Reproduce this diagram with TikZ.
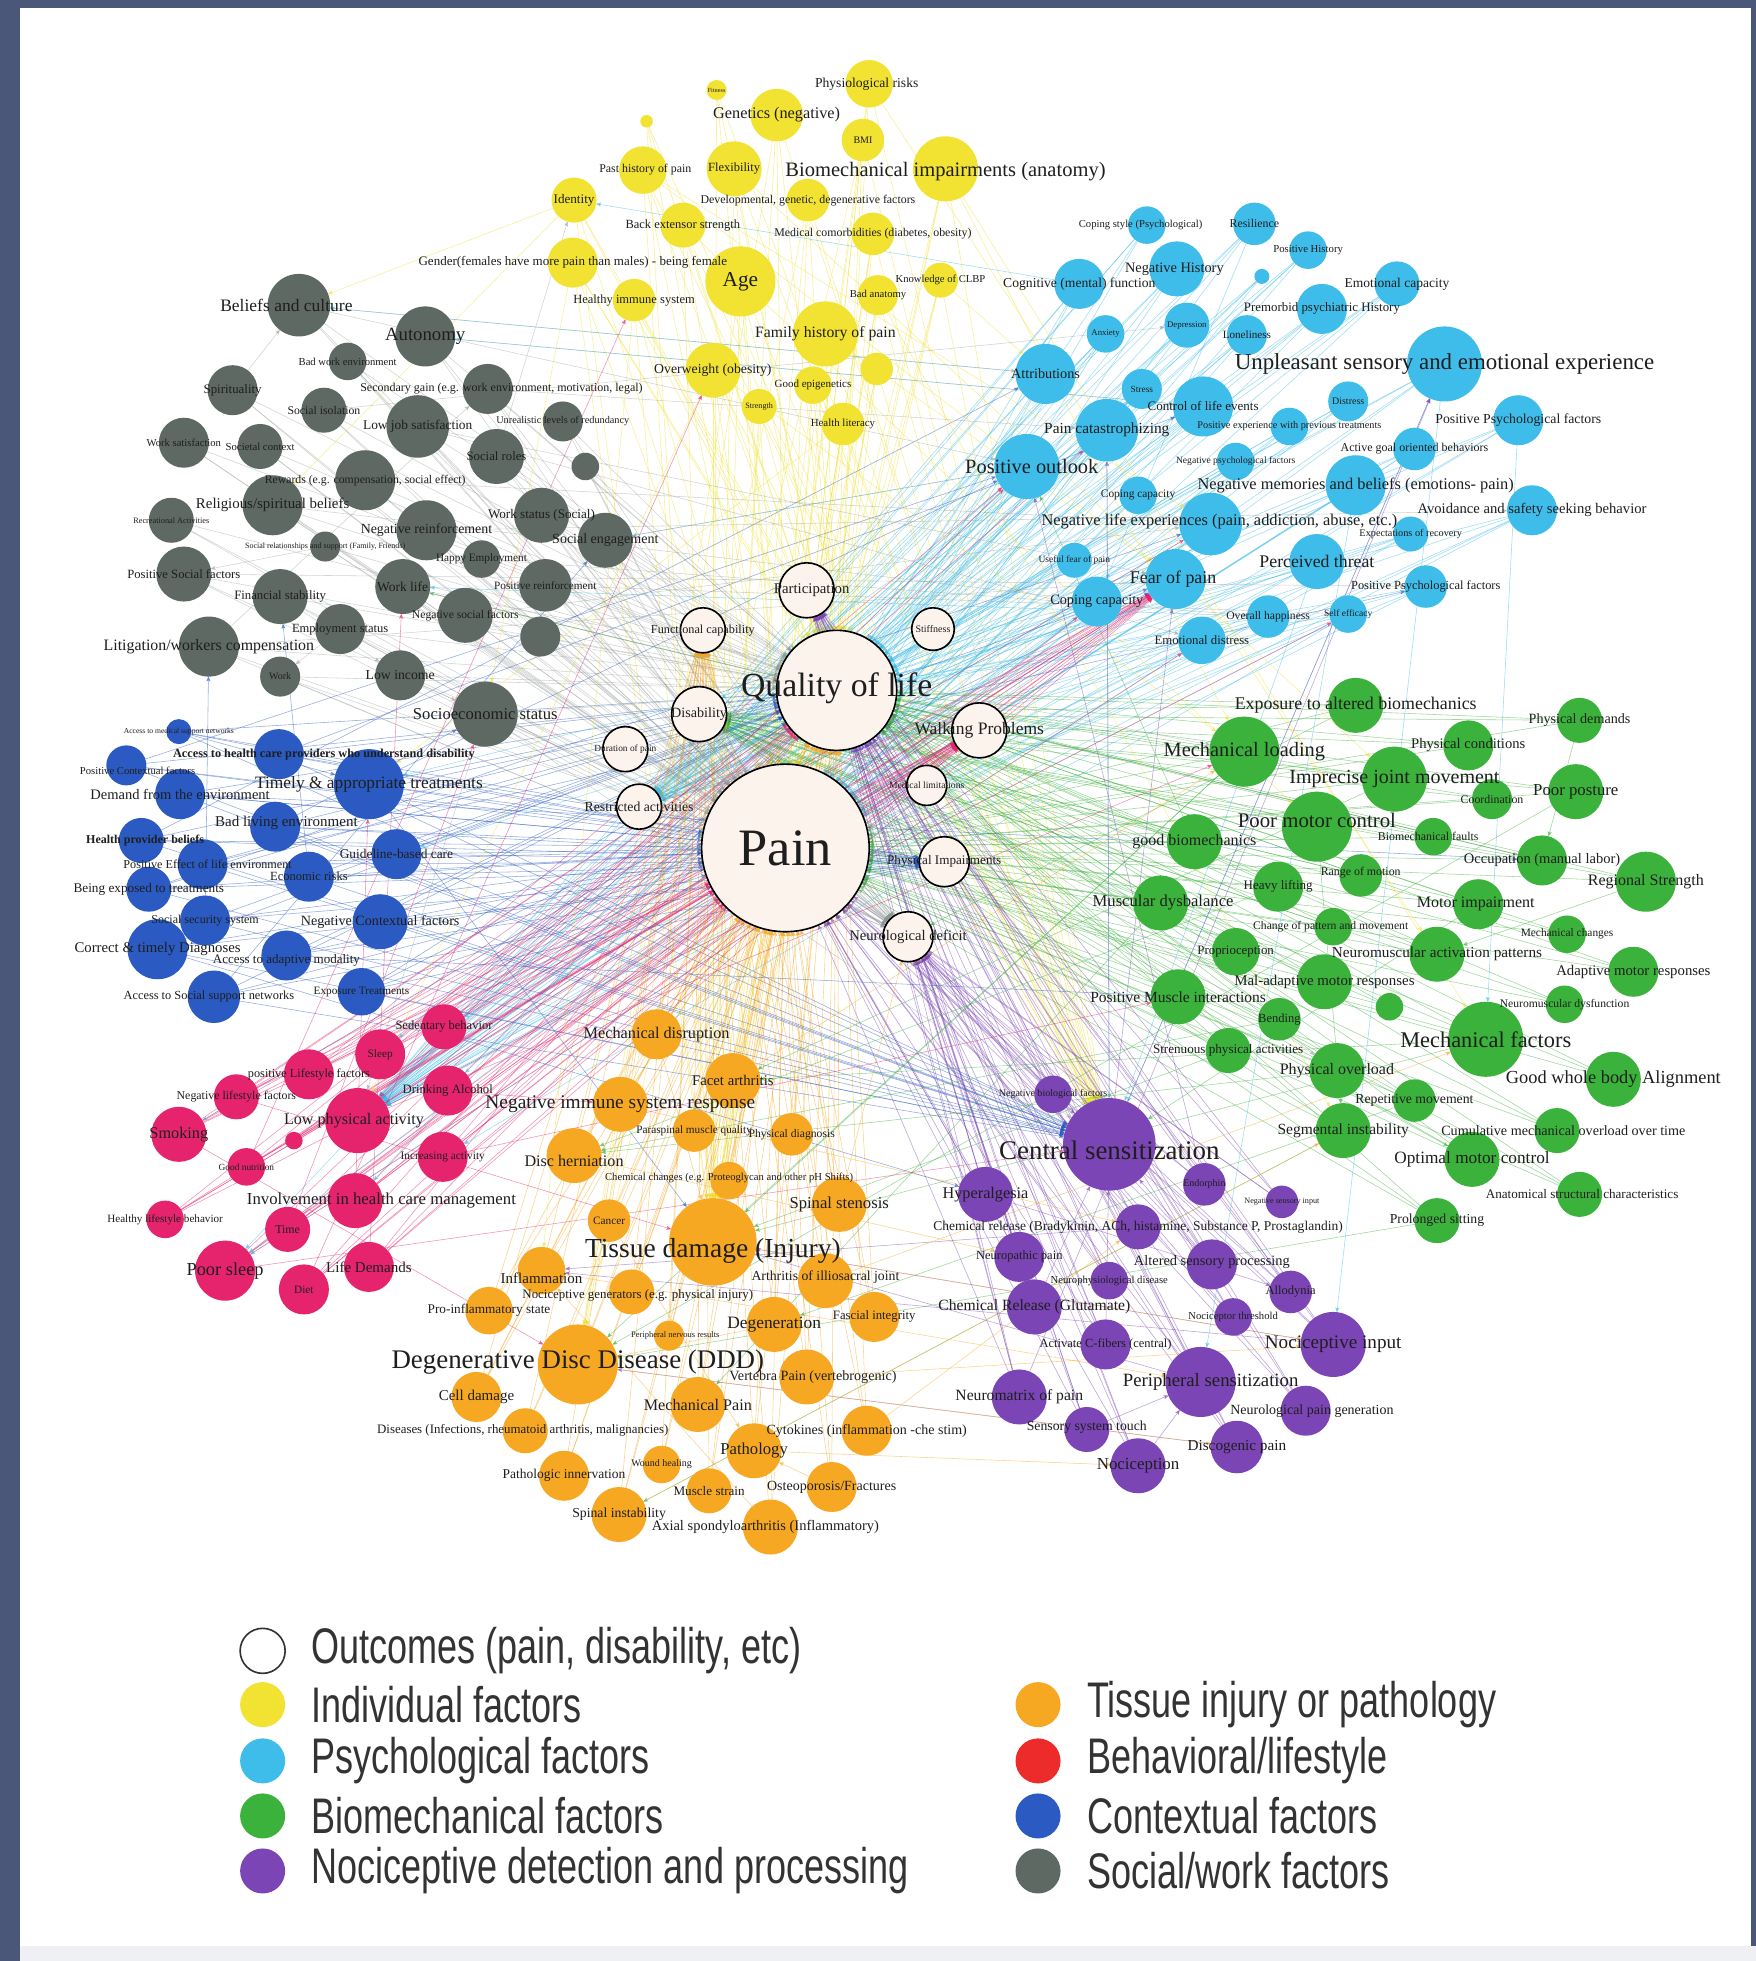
\documentclass[tikz,border=0pt]{standalone}
\usepackage{graphicx}
\usepackage{fontspec}
\setmainfont{Liberation Serif}
\newfontfamily\legfont{Liberation Sans}
\usetikzlibrary{arrows,positioning}

\definecolor{indc}{HTML}{F2E232}
\definecolor{psyc}{HTML}{3FBDEA}
\definecolor{bioc}{HTML}{3BB23B}
\definecolor{nocc}{HTML}{7B45B5}
\definecolor{tisc}{HTML}{F7A823}
\definecolor{behc}{HTML}{E6246E}
\definecolor{behleg}{HTML}{EE2B2B}
\definecolor{ctxc}{HTML}{2B5BC2}
\definecolor{socc}{HTML}{5E6963}
\definecolor{outfill}{HTML}{FBF3EC}
\definecolor{framec}{HTML}{4A5778}
\definecolor{bandc}{HTML}{EEF0F4}
\definecolor{labtxt}{HTML}{1E1E1E}
\definecolor{legtxt}{HTML}{333333}

\pgfdeclarelayer{framelayer}
\pgfdeclarelayer{edgelayer}
\pgfdeclarelayer{dotlayer}
\pgfsetlayers{framelayer,edgelayer,dotlayer,main}

% factor: [label options]{name}{style}{x}{y}{radius}{font size}{text}
\newcommand\fac[8][]{%
  \begin{pgfonlayer}{dotlayer}\node (#2) [#3, minimum size=2*#6] at (#4,#5) {};\end{pgfonlayer}%
  \node [lab=#7, #1] at (#2.center) {#8};}
\newcommand\legtxt[1]{\scalebox{0.72}[1]{#1}}

\begin{document}
\begin{tikzpicture}[x=1pt, y=-1pt, >=stealth', line cap=round]

    \tikzstyle{dot} = [circle, inner sep=0pt, outer sep=0pt]
    \tikzstyle{outc} = [dot, fill=outfill, draw=black, line width=1.3pt]
    \tikzstyle{ind} = [dot, fill=indc]
    \tikzstyle{psy} = [dot, fill=psyc]
    \tikzstyle{bio} = [dot, fill=bioc]
    \tikzstyle{noc} = [dot, fill=nocc]
    \tikzstyle{tis} = [dot, fill=tisc]
    \tikzstyle{beh} = [dot, fill=behc]
    \tikzstyle{ctx} = [dot, fill=ctxc]
    \tikzstyle{soc} = [dot, fill=socc]
    \tikzset{lab/.style={font=\fontsize{#1}{#1}\selectfont, text=labtxt, inner sep=0pt}}
    \tikzstyle{edge} = [->, line width=0.45pt, opacity=0.5]
    \tikzstyle{eind} = [edge, draw=indc]
    \tikzstyle{epsy} = [edge, draw=psyc]
    \tikzstyle{ebio} = [edge, draw=bioc]
    \tikzstyle{enoc} = [edge, draw=nocc]
    \tikzstyle{etis} = [edge, draw=tisc]
    \tikzstyle{ebeh} = [edge, draw=behc]
    \tikzstyle{ectx} = [edge, draw=ctxc]
    \tikzstyle{esoc} = [edge, draw=socc!70!white, opacity=0.4]
    \tikzstyle{legdot} = [dot, minimum size=36]
    \tikzstyle{legtext} = [font=\legfont\fontsize{40}{40}\selectfont, text=legtxt, inner sep=0pt, anchor=west]

    \useasboundingbox (0,0) rectangle (1404,1568);
    \begin{pgfonlayer}{framelayer}
        \fill[framec] (0,0) rectangle (1404,1568);
        \fill[white] (16,6) rectangle (1400,1556);
        \fill[bandc] (16,1556) rectangle (1404,1568);
    \end{pgfonlayer}

    % outcomes
    \fac[yshift=2]{qol}{outc}{669}{552}{48}{27}{Quality of life}
    \fac{pain}{outc}{628}{678}{67}{42}{Pain}
    \fac[xshift=4]{partic}{outc}{645}{472}{22}{11.8}{Participation}
    \fac{funccap}{outc}{562}{504}{18}{9.8}{Functional capability}
    \fac{stiff}{outc}{746}{503}{17}{8}{Stiffness}
    \fac{disab}{outc}{559}{571}{22}{11.3}{Disability}
    \fac{walk}{outc}{783}{584}{22}{14}{Walking Problems}
    \fac{durat}{outc}{500}{599}{18}{7.5}{Duration of pain}
    \fac{restr}{outc}{511}{645}{18}{11}{Restricted activities}
    \fac{physimp}{outc}{755}{689}{20}{10.5}{Physical Impairments}
    \fac{neuro}{outc}{726}{749}{20}{11.7}{Neurological deficit}
    \fac{medlim}{outc}{741}{628}{16}{7.7}{Medical limitations}

    % individual factors
    \fac{fitness}{ind}{573}{72}{8}{5}{Fitness}
    \fac{tinyy}{ind}{517}{97}{5}{4}{}
    \fac[xshift=-2]{physrisk}{ind}{695}{67}{19}{10.9}{Physiological risks}
    \fac{genet}{ind}{621}{92}{21}{13}{Genetics (negative)}
    \fac{bmi}{ind}{690}{112}{17}{8}{BMI}
    \fac[xshift=2]{pasthist}{ind}{514}{136}{19}{9.5}{Past history of pain}
    \fac{flex}{ind}{587}{135}{22}{10}{Flexibility}
    \fac[yshift=-2]{biomimp}{ind}{756}{135}{26}{16.4}{Biomechanical impairments (anatomy)}
    \fac{identity}{ind}{459}{160}{18}{10.5}{Identity}
    \fac{devgen}{ind}{646}{160}{17}{9.5}{Developmental, genetic, degenerative factors}
    \fac{backext}{ind}{546}{180}{18}{10}{Back extensor strength}
    \fac{medcom}{ind}{698}{187}{17}{9.5}{Medical comorbidities (diabetes, obesity)}
    \fac{gender}{ind}{458}{210}{20}{10.4}{Gender(females have more pain than males) - being female}
    \fac{age}{ind}{592}{225}{28}{17}{Age}
    \fac{knowclbp}{ind}{752}{224}{14}{8.5}{Knowledge of CLBP}
    \fac{healimm}{ind}{507}{240}{17}{10}{Healthy immune system}
    \fac{badanat}{ind}{702}{236}{16}{8.5}{Bad anatomy}
    \fac{famhist}{ind}{660}{267}{26}{12.6}{Family history of pain}
    \fac{overw}{ind}{570}{296}{22}{11}{Overweight (obesity)}
    \fac{ruminat}{ind}{701}{295}{13}{5}{}
    \fac{goodepi}{ind}{650}{308}{15}{8.8}{Good epigenetics}
    \fac{strength}{ind}{607}{325}{14}{6.5}{Strength}
    \fac{healit}{ind}{674}{339}{17}{8.7}{Health literacy}

    % psychological factors
    \fac[xshift=-5]{copsty}{psy}{917}{180}{15}{8.5}{Coping style (Psychological)}
    \fac{resil}{psy}{1003}{179}{17}{9.5}{Resilience}
    \fac{poshist}{psy}{1046}{200}{15}{8.6}{Positive History}
    \fac[xshift=-2]{neghist}{psy}{941}{215}{22}{11.5}{Negative History}
    \fac{tinyc}{psy}{1009}{221}{6}{4}{}
    \fac{cognit}{psy}{863}{227}{20}{10.9}{Cognitive (mental) function}
    \fac{emocap}{psy}{1117}{227}{18}{10.8}{Emotional capacity}
    \fac{premorb}{psy}{1057}{247}{20}{10.3}{Premorbid psychiatric History}
    \fac{anxiety}{psy}{884}{267}{15}{7}{Anxiety}
    \fac{depress}{psy}{949}{260}{18}{7}{Depression}
    \fac{lonely}{psy}{997}{268}{16}{8.9}{Loneliness}
    \fac{unpleas}{psy}{1155}{291}{30}{18.3}{Unpleasant sensory and emotional experience}
    \fac{attrib}{psy}{836}{299}{24}{11.4}{Attributions}
    \fac{stress}{psy}{913}{311}{16}{7.5}{Stress}
    \fac{distress}{psy}{1078}{321}{16}{8}{Distress}
    \fac{control}{psy}{962}{325}{24}{10.4}{Control of life events}
    \fac{paincat}{psy}{885}{344}{25}{12.3}{Pain catastrophizing}
    \fac{posexp}{psy}{1031}{341}{15}{8.2}{Positive experience with previous treatments}
    \fac{pospsyA}{psy}{1214}{336}{20}{11}{Positive Psychological factors}
    \fac{actgoal}{psy}{1131}{359}{17}{9.6}{Active goal oriented behaviors}
    \fac{negpsy}{psy}{988}{369}{15}{7.7}{Negative psychological factors}
    \fac[xshift=4]{posout}{psy}{821}{373}{26}{16.3}{Positive outlook}
    \fac{copcapA}{psy}{910}{396}{15}{9.1}{Coping capacity}
    \fac{negmem}{psy}{1084}{388}{24}{13.1}{Negative memories and beliefs (emotions- pain)}
    \fac[xshift=7,yshift=2]{neglife}{psy}{968}{419}{25}{13.1}{Negative life experiences (pain, addiction, abuse, etc.)}
    \fac{avoid}{psy}{1225}{408}{20}{11.7}{Avoidance and safety seeking behavior}
    \fac{expect}{psy}{1128}{427}{14}{8.2}{Expectations of recovery}
    \fac{usefear}{psy}{859}{448}{14}{7.6}{Useful fear of pain}
    \fac[xshift=-2]{fearpain}{psy}{940}{463}{24}{14.3}{Fear of pain}
    \fac{perceiv}{psy}{1053}{449}{22}{14.2}{Perceived threat}
    \fac{pospsyB}{psy}{1140}{469}{17}{9.9}{Positive Psychological factors}
    \fac{copcapB}{psy}{877}{481}{20}{11.4}{Coping capacity}
    \fac{happy}{psy}{1014}{493}{17}{9.3}{Overall happiness}
    \fac{selfeff}{psy}{1078}{491}{15}{7.6}{Self efficacy}
    \fac{emodist}{psy}{961}{512}{19}{10.2}{Emotional distress}

    % biomechanical factors
    \fac{expalt}{bio}{1084}{564}{22}{14.3}{Exposure to altered biomechanics}
    \fac{physdem}{bio}{1263}{576}{18}{11.3}{Physical demands}
    \fac{physcond}{bio}{1174}{596}{20}{11.7}{Physical conditions}
    \fac{mechload}{bio}{995}{601}{28}{16.3}{Mechanical loading}
    \fac{imprec}{bio}{1115}{623}{26}{16}{Imprecise joint movement}
    \fac{coord}{bio}{1193}{639}{16}{9.5}{Coordination}
    \fac{poorpost}{bio}{1260}{633}{22}{13.4}{Poor posture}
    \fac[yshift=5]{poormot}{bio}{1053}{661}{28}{16.6}{Poor motor control}
    \fac[xshift=-4]{biofault}{bio}{1146}{669}{15}{9.5}{Biomechanical faults}
    \fac{goodbio}{bio}{955}{673}{22}{12.8}{good biomechanics}
    \fac{occup}{bio}{1233}{688}{20}{11.6}{Occupation (manual labor)}
    \fac[yshift=2]{rangem}{bio}{1088}{700}{17}{9.5}{Range of motion}
    \fac{heavy}{bio}{1022}{709}{20}{10.4}{Heavy lifting}
    \fac{regional}{bio}{1316}{705}{24}{12.8}{Regional Strength}
    \fac[xshift=2]{musdys}{bio}{928}{722}{22}{13.3}{Muscular dysbalance}
    \fac[xshift=-2]{motorimp}{bio}{1182}{723}{20}{12.8}{Motor impairment}
    \fac[xshift=-2]{change}{bio}{1066}{741}{15}{9.3}{Change of pattern and movement}
    \fac{mechch}{bio}{1253}{747}{15}{9.1}{Mechanical changes}
    \fac{proprio}{bio}{988}{761}{19}{10.3}{Proprioception}
    \fac{neuroact}{bio}{1149}{763}{22}{12.2}{Neuromuscular activation patterns}
    \fac{adaptive}{bio}{1306}{777}{20}{11.8}{Adaptive motor responses}
    \fac{maladapt}{bio}{1059}{785}{22}{11.9}{Mal-adaptive motor responses}
    \fac{posmusc}{bio}{942}{797}{22}{12.4}{Positive Muscle interactions}
    \fac{neurodys}{bio}{1251}{803}{15}{9.3}{Neuromuscular dysfunction}
    \fac{tinygreen}{bio}{1111}{805}{11}{5}{}
    \fac{bending}{bio}{1023}{815}{17}{10}{Bending}
    \fac{mechfac}{bio}{1188}{831}{30}{17.9}{Mechanical factors}
    \fac{strenu}{bio}{982}{840}{18}{10.5}{Strenuous physical activities}
    \fac{physover}{bio}{1069}{856}{22}{12.8}{Physical overload}
    \fac{goodwhole}{bio}{1290}{863}{22}{14.7}{Good whole body Alignment}
    \fac{repet}{bio}{1131}{880}{17}{11}{Repetitive movement}
    \fac{segment}{bio}{1074}{904}{22}{12.4}{Segmental instability}
    \fac[xshift=5]{cumul}{bio}{1245}{904}{18}{11.3}{Cumulative mechanical overload over time}
    \fac{optimal}{bio}{1177}{927}{22}{13.8}{Optimal motor control}
    \fac[xshift=2]{anatom}{bio}{1263}{955}{18}{10.5}{Anatomical structural characteristics}
    \fac{prolong}{bio}{1149}{976}{18}{11}{Prolonged sitting}

    % nociceptive detection and processing
    \fac{negbio}{noc}{842}{875}{15}{8}{Negative biological factors}
    \fac[yshift=-5]{central}{noc}{887}{915}{37}{21.5}{Central sensitization}
    \fac{hyper}{noc}{788}{955}{22}{13}{Hyperalgesia}
    \fac{endor}{noc}{963}{947}{17}{8}{Endorphin}
    \fac{negsens}{noc}{1025}{961}{13}{6.5}{Negative sensory input}
    \fac{chemrela}{noc}{910}{981}{18}{10.8}{Chemical release (Bradykinin, ACh, histamine, Substance P, Prostaglandin)}
    \fac{neuropath}{noc}{815}{1005}{20}{10}{Neuropathic pain}
    \fac[yshift=2]{altered}{noc}{969}{1011}{20}{11.5}{Altered sensory processing}
    \fac{neurophys}{noc}{887}{1024}{15}{8.5}{Neurophysiological disease}
    \fac{allod}{noc}{1032}{1033}{17}{10}{Allodynia}
    \fac{chemrelb}{noc}{827}{1045}{22}{12.5}{Chemical Release (Glutamate)}
    \fac{nocithr}{noc}{986}{1053}{15}{8.5}{Nociceptor threshold}
    \fac{cfib}{noc}{884}{1075}{20}{10}{Activate C-fibers (central)}
    \fac{nociinp}{noc}{1066}{1075}{26}{15.3}{Nociceptive input}
    \fac[xshift=8]{periph}{noc}{960}{1105}{28}{15}{Peripheral sensitization}
    \fac{neuromat}{noc}{815}{1117}{22}{12.5}{Neuromatrix of pain}
    \fac[xshift=5]{neurolgen}{noc}{1044}{1128}{20}{11.2}{Neurological pain generation}
    \fac[yshift=2]{sensory}{noc}{869}{1143}{18}{11}{Sensory system touch}
    \fac{discog}{noc}{989}{1157}{21}{12.2}{Discogenic pain}
    \fac{nocicep}{noc}{910}{1172}{22}{13.5}{Nociception}

    % tissue injury or pathology
    \fac{mechdis}{tis}{525}{827}{20}{13}{Mechanical disruption}
    \fac{facet}{tis}{586}{864}{22}{11.8}{Facet arthritis}
    \fac{negimm}{tis}{496}{883}{22}{15.5}{Negative immune system response}
    \fac{parasp}{tis}{555}{904}{17}{9}{Paraspinal muscle quality}
    \fac{physdiag}{tis}{633}{907}{17}{9.3}{Physical diagnosis}
    \fac[yshift=-4]{dischern}{tis}{459}{924}{22}{12.9}{Disc herniation}
    \fac[yshift=2]{chemch}{tis}{583}{944}{15}{8.5}{Chemical changes (e.g. Proteoglycan and other pH Shifts)}
    \fac{cancer}{tis}{487}{976}{17}{9}{Cancer}
    \fac{spinsten}{tis}{671}{963}{22}{13.3}{Spinal stenosis}
    \fac[yshift=-7]{tissue}{tis}{570}{993}{35}{22}{Tissue damage (Injury)}
    \fac[yshift=3]{arthil}{tis}{660}{1024}{22}{11}{Arthritis of illiosacral joint}
    \fac[yshift=-6]{inflam}{tis}{433}{1016}{19}{12}{Inflammation}
    \fac[xshift=5,yshift=-3]{nocigen}{tis}{505}{1033}{18}{10.3}{Nociceptive generators (e.g. physical injury)}
    \fac{proinfl}{tis}{391}{1048}{19}{10.6}{Pro-inflammatory state}
    \fac{degen}{tis}{619}{1059}{22}{13.9}{Degeneration}
    \fac{fascial}{tis}{699}{1053}{20}{10.2}{Fascial integrity}
    \fac[xshift=5]{pernerv}{tis}{535}{1068}{12}{6.8}{Peripheral nervous results}
    \fac[yshift=2]{ddd}{tis}{462}{1091}{32}{21.5}{Degenerative Disc Disease (DDD)}
    \fac[xshift=5]{vertebra}{tis}{645}{1101}{22}{11.3}{Vertebra Pain (vertebrogenic)}
    \fac{cell}{tis}{381}{1117}{20}{12}{Cell damage}
    \fac{mechpain}{tis}{558}{1123}{22}{12.9}{Mechanical Pain}
    \fac[xshift=-2]{diseases}{tis}{420}{1144}{18}{10.3}{Diseases (Infections, rheumatoid arthritis, malignancies)}
    \fac{cytok}{tis}{693}{1144}{20}{11.2}{Cytokines (inflammation -che stim)}
    \fac{pathol}{tis}{603}{1160}{22}{13.3}{Pathology}
    \fac{wound}{tis}{529}{1171}{15}{8}{Wound healing}
    \fac{pathinn}{tis}{451}{1180}{20}{10.8}{Pathologic innervation}
    \fac{muscle}{tis}{567}{1192}{18}{10.5}{Muscle strain}
    \fac{osteo}{tis}{665}{1189}{20}{11.2}{Osteoporosis/Fractures}
    \fac{spinst}{tis}{495}{1211}{22}{11}{Spinal instability}
    \fac[xshift=-4]{axial}{tis}{616}{1221}{22}{11.6}{Axial spondyloarthritis (Inflammatory)}

    % behavioral / lifestyle
    \fac{sedent}{beh}{355}{821}{18}{10}{Sedentary behavior}
    \fac{sleep}{beh}{304}{843}{20}{9}{Sleep}
    \fac{poslife}{beh}{247}{859}{20}{9.8}{positive Lifestyle factors}
    \fac{drink}{beh}{358}{872}{20}{10.2}{Drinking Alcohol}
    \fac{neglifest}{beh}{189}{877}{18}{9.5}{Negative lifestyle factors}
    \fac[xshift=-3]{lowphys}{beh}{286}{896}{26}{12.9}{Low physical activity}
    \fac{smoking}{beh}{143}{907}{22}{13}{Smoking}
    \fac{tinypink}{beh}{235}{912}{7}{4}{}
    \fac{incr}{beh}{354}{925}{20}{9.1}{Increasing activity}
    \fac{goodnut}{beh}{197}{933}{15}{7.5}{Good nutrition}
    \fac[xshift=21]{involve}{beh}{284}{960}{22}{13.4}{Involvement in health care management}
    \fac{healthyl}{beh}{132}{975}{15}{8.9}{Healthy lifestyle behavior}
    \fac{time}{beh}{230}{983}{18}{9.5}{Time}
    \fac{poorsleep}{beh}{180}{1016}{24}{14.7}{Poor sleep}
    \fac{diet}{beh}{243}{1031}{20}{9}{Diet}
    \fac{lifedem}{beh}{295}{1013}{20}{12}{Life Demands}

    % contextual factors
    \fac{accmed}{ctx}{143}{585}{10}{6.1}{Access to medical support networks}
    \fac[xshift=36]{acchealth}{ctx}{223}{603}{20}{9.8}{\textbf{Access to health care providers who understand disability}}
    \fac[xshift=9,yshift=-4]{posctx}{ctx}{101}{612}{16}{8.5}{Positive Contextual factors}
    \fac{demand}{ctx}{144}{635}{20}{11.6}{Demand from the environment}
    \fac{timely}{ctx}{295}{627}{28}{13.9}{Timely \& appropriate treatments}
    \fac[xshift=9,yshift=3]{badliv}{ctx}{220}{661}{20}{12}{Bad living environment}
    \fac[xshift=3]{healthprov}{ctx}{113}{672}{18}{9.6}{\textbf{Health provider beliefs}}
    \fac{guide}{ctx}{317}{683}{20}{10.7}{Guideline-based care}
    \fac[xshift=4]{poseff}{ctx}{162}{691}{20}{9.7}{Positive Effect of life environment}
    \fac{econ}{ctx}{247}{701}{20}{10}{Economic risks}
    \fac{beingexp}{ctx}{119}{711}{18}{10.6}{Being exposed to treatments}
    \fac{socsec}{ctx}{164}{736}{20}{9.6}{Social security system}
    \fac{negctx}{ctx}{304}{737}{22}{11.3}{Negative Contextual factors}
    \fac{correct}{ctx}{126}{759}{24}{11.8}{Correct \& timely Diagnoses}
    \fac[yshift=-4]{accadapt}{ctx}{229}{764}{20}{10.4}{Access to adaptive modality}
    \fac[xshift=-4]{accsoc}{ctx}{171}{797}{21}{9.9}{Access to Social support networks}
    \fac{exptreat}{ctx}{289}{793}{19}{9}{Exposure Treatments}

    % social / work factors
    \fac[xshift=-10]{beliefs}{soc}{239}{244}{25}{14}{Beliefs and culture}
    \fac{autonomy}{soc}{340}{269}{24}{15}{Autonomy}
    \fac{badwork}{soc}{278}{289}{15}{8.5}{Bad work environment}
    \fac{spirit}{soc}{186}{312}{20}{10.3}{Spirituality}
    \fac[xshift=11]{secondary}{soc}{390}{311}{20}{9.6}{Secondary gain (e.g. work environment, motivation, legal)}
    \fac{socisol}{soc}{259}{328}{18}{9.4}{Social isolation}
    \fac{lowjob}{soc}{334}{341}{25}{10.7}{Low job satisfaction}
    \fac{unreal}{soc}{450}{337}{16}{8.2}{Unrealistic levels of redundancy}
    \fac{worksat}{soc}{147}{354}{20}{8.5}{Work satisfaction}
    \fac{societal}{soc}{208}{357}{18}{8.6}{Societal context}
    \fac{socroles}{soc}{397}{365}{22}{10.2}{Social roles}
    \fac{lacksoc}{soc}{468}{373}{11}{5}{}
    \fac{rewards}{soc}{292}{384}{24}{9.4}{Rewards (e.g. compensation, social effect)}
    \fac{religious}{soc}{218}{404}{24}{11.9}{Religious/spiritual beliefs}
    \fac{recreat}{soc}{137}{416}{18}{6.6}{Recreational Activities}
    \fac{workstat}{soc}{433}{412}{22}{10.5}{Work status (Social)}
    \fac{negreinf}{soc}{341}{424}{24}{11.1}{Negative reinforcement}
    \fac{socrel}{soc}{260}{437}{12}{6.4}{Social relationships and support (Family, Friends)}
    \fac{socengage}{soc}{484}{432}{22}{11.2}{Social engagement}
    \fac{happyemp}{soc}{385}{447}{15}{9}{Happy Employment}
    \fac{possoc}{soc}{147}{459}{22}{10.1}{Positive Social factors}
    \fac{worklife}{soc}{322}{469}{22}{10.8}{Work life}
    \fac{posreinf}{soc}{436}{468}{21}{9}{Positive reinforcement}
    \fac{financial}{soc}{224}{477}{22}{10.2}{Financial stability}
    \fac{negsoc}{soc}{372}{492}{22}{9.3}{Negative social factors}
    \fac{employ}{soc}{272}{503}{20}{10}{Employment status}
    \fac{subst}{soc}{432}{509}{16}{5}{}
    \fac{litig}{soc}{167}{517}{24}{12.7}{Litigation/workers compensation}
    \fac{work}{soc}{224}{541}{16}{8}{Work}
    \fac{lowinc}{soc}{320}{540}{20}{11}{Low income}
    \fac{socioec}{soc}{388}{571}{26}{13.3}{Socioeconomic status}

    % connectors
    \begin{pgfonlayer}{edgelayer}
    \foreach \s in {physrisk,genet,bmi,pasthist,flex,biomimp,identity,devgen,backext,medcom,gender,age,knowclbp,healimm,badanat,famhist,overw,ruminat,goodepi,strength,healit,fitness,tinyy}
        {\draw[eind] (\s) -- (pain); \draw[eind] (\s) -- (qol); \draw[eind] (\s) -- (tissue); \draw[eind] (\s) -- (central);}
    \foreach \s in {copsty,resil,poshist,neghist,tinyc,cognit,emocap,premorb,anxiety,depress,lonely,unpleas,attrib,stress,distress,control,paincat,posexp,pospsyA,actgoal,negpsy,posout,copcapA,negmem,neglife,avoid,expect,usefear,fearpain,perceiv,pospsyB,copcapB,happy,selfeff,emodist}
        {\draw[epsy] (\s) -- (pain); \draw[epsy] (\s) -- (qol); \draw[epsy] (\s) -- (restr); \draw[epsy] (\s) -- (lowphys);}
    \foreach \s in {expalt,physdem,physcond,mechload,imprec,coord,poorpost,poormot,biofault,goodbio,occup,rangem,heavy,regional,musdys,motorimp,change,mechch,proprio,neuroact,adaptive,maladapt,posmusc,neurodys,tinygreen,bending,mechfac,strenu,physover,goodwhole,repet,segment,cumul,optimal,anatom,prolong}
        {\draw[ebio] (\s) -- (pain); \draw[ebio] (\s) -- (qol); \draw[ebio] (\s) -- (disab);}
    \foreach \s in {negbio,central,hyper,endor,negsens,chemrela,neuropath,altered,neurophys,allod,chemrelb,nocithr,cfib,nociinp,periph,neuromat,neurolgen,sensory,discog,nocicep}
        {\draw[enoc] (\s) -- (pain); \draw[enoc] (\s) -- (qol); \draw[enoc] (\s) -- (partic); \draw[enoc] (\s) -- (neuro);}
    \foreach \s in {mechdis,facet,negimm,parasp,physdiag,dischern,chemch,cancer,spinsten,tissue,arthil,inflam,nocigen,proinfl,degen,fascial,pernerv,ddd,vertebra,cell,mechpain,diseases,cytok,pathol,wound,pathinn,muscle,osteo,spinst,axial}
        {\draw[etis] (\s) -- (pain); \draw[etis] (\s) -- (qol); \draw[etis] (\s) -- (funccap);}
    \foreach \s in {sedent,sleep,poslife,drink,neglifest,lowphys,smoking,tinypink,incr,goodnut,involve,healthyl,time,poorsleep,diet,lifedem}
        {\draw[ebeh] (\s) -- (pain); \draw[ebeh] (\s) -- (qol); \draw[ebeh] (\s) -- (walk); \draw[ebeh] (\s) -- (fearpain);}
    \foreach \s in {accmed,acchealth,posctx,demand,timely,badliv,healthprov,guide,poseff,econ,beingexp,socsec,negctx,correct,accadapt,accsoc,exptreat}
        {\draw[ectx] (\s) -- (pain); \draw[ectx] (\s) -- (qol); \draw[ectx] (\s) -- (physimp); \draw[ectx] (\s) -- (central);}
    \foreach \s in {beliefs,autonomy,badwork,spirit,secondary,socisol,lowjob,unreal,worksat,societal,socroles,lacksoc,rewards,religious,recreat,workstat,negreinf,socrel,socengage,happyemp,possoc,worklife,posreinf,financial,negsoc,employ,subst,litig,work,lowinc,socioec}
        {\draw[esoc] (\s) -- (pain); \draw[esoc] (\s) -- (qol); \draw[esoc] (\s) -- (neuro);}

    \foreach \a/\b in {age/ddd, genet/ddd, biomimp/mechfac, biomimp/mechload, famhist/fearpain, overw/mechload, overw/lowphys, gender/socioec, identity/beliefs, identity/religious, pasthist/neglife, pasthist/fearpain, backext/poormot, flex/imprec, bmi/ddd, healimm/inflam, devgen/ddd, medcom/tissue, healit/timely, physrisk/neuroact, knowclbp/attrib, badanat/segment}
        \draw[eind] (\a) -- (\b);
    \foreach \a/\b in {fearpain/restr, paincat/central, paincat/disab, posout/involve, posout/socengage, neglife/poorsleep, neglife/smoking, unpleas/nociinp, unpleas/central, avoid/sedent, perceiv/central, copcapB/timely, attrib/beliefs, cognit/identity, control/autonomy, emodist/poorsleep, negmem/periph, depress/sleep, anxiety/poorsleep, stress/drink, selfeff/incr, pospsyA/mechfac, expect/guide, happy/worklife, resil/copcapB}
        \draw[epsy] (\a) -- (\b);
    \foreach \a/\b in {mechload/tissue, mechload/ddd, poormot/segment, mechfac/tissue, mechfac/facet, imprec/facet, physover/dischern, heavy/dischern, segment/spinst, goodbio/posout, musdys/mechpain, expalt/neuro, occup/worklife, prolong/ddd, regional/neuroact, posmusc/optimal, strenu/tissue, repet/degen, poorpost/ddd, physdem/occup, motorimp/central, bending/dischern}
        \draw[ebio] (\a) -- (\b);
    \foreach \a/\b in {central/fearpain, central/paincat, central/unpleas, periph/tissue, nociinp/tissue, nociinp/inflam, neuromat/unpleas, hyper/allod, chemrela/inflam, chemrelb/central, discog/ddd, nocicep/periph, cfib/central, sensory/periph, altered/central, negbio/central, endor/posout}
        \draw[enoc] (\a) -- (\b);
    \foreach \a/\b in {tissue/nociinp, ddd/discog, inflam/periph, facet/mechload, dischern/neuropath, spinsten/neuro, negimm/chemrela, cytok/chemrela, degen/ddd, arthil/mechfac, cancer/pathol, mechdis/tissue, pathol/nocicep, spinst/segment, osteo/pathol, axial/inflam, vertebra/nociinp, cell/inflam}
        \draw[etis] (\a) -- (\b);
    \foreach \a/\b in {lowphys/mechload, lowphys/posout, smoking/ddd, smoking/neglife, poorsleep/emodist, poorsleep/central, sleep/paincat, sedent/lowphys, involve/copcapB, involve/timely, drink/negimm, incr/posmusc, time/socioec, diet/overw, lifedem/worklife, poslife/posout, neglifest/tissue, healthyl/selfeff, goodnut/healimm}
        \draw[ebeh] (\a) -- (\b);
    \foreach \a/\b in {timely/posout, timely/tissue, correct/hyper, guide/fearpain, acchealth/control, demand/occup, badliv/socioec, econ/financial, socsec/litig, accsoc/socengage, exptreat/fearpain, accadapt/posmusc, healthprov/attrib, beingexp/neglife, poseff/pospsyB, posctx/posout, accmed/timely}
        \draw[ectx] (\a) -- (\b);
    \foreach \a/\b in {beliefs/posout, beliefs/attrib, autonomy/control, secondary/paincat, lowjob/fearpain, lowjob/emodist, rewards/neglife, socioec/central, socioec/lowphys, litig/secondary, litig/fearpain, financial/lowinc, worklife/mechload, worklife/occup, religious/copcapB, negreinf/avoid, posreinf/selfeff, socengage/posout, negsoc/neglife, workstat/physover, socisol/depress, spirit/beliefs, lowinc/socioec, socrel/possoc, employ/work, possoc/pospsyB, happyemp/happy, socroles/identity}
        \draw[esoc] (\a) -- (\b);
    \end{pgfonlayer}

    % legend
    \node (legout) [legdot, fill=white, draw=black!80, line width=1.3pt] at (210,1320) {};
    \node (legind) [legdot, fill=indc] at (210,1363) {};
    \node (legpsy) [legdot, fill=psyc] at (210,1408) {};
    \node (legbio) [legdot, fill=bioc] at (210,1452) {};
    \node (legnoc) [legdot, fill=nocc] at (210,1496) {};
    \node (legtis) [legdot, fill=tisc] at (830,1363) {};
    \node (legbeh) [legdot, fill=behleg] at (830,1408) {};
    \node (legctx) [legdot, fill=ctxc] at (830,1452) {};
    \node (legsoc) [legdot, fill=socc] at (830,1496) {};

    \node [legtext, right=21pt of legout] {\legtxt{Outcomes (pain, disability, etc)}};
    \node [legtext, right=21pt of legind] {\legtxt{Individual factors}};
    \node [legtext, right=21pt of legpsy] {\legtxt{Psychological factors}};
    \node [legtext, right=21pt of legbio] {\legtxt{Biomechanical factors}};
    \node [legtext, right=21pt of legnoc] {\legtxt{Nociceptive detection and processing}};
    \node [legtext, right=21pt of legtis] {\legtxt{Tissue injury or pathology}};
    \node [legtext, right=21pt of legbeh] {\legtxt{Behavioral/lifestyle}};
    \node [legtext, right=21pt of legctx] {\legtxt{Contextual factors}};
    \node [legtext, right=21pt of legsoc] {\legtxt{Social/work factors}};
\end{tikzpicture}
\end{document}
